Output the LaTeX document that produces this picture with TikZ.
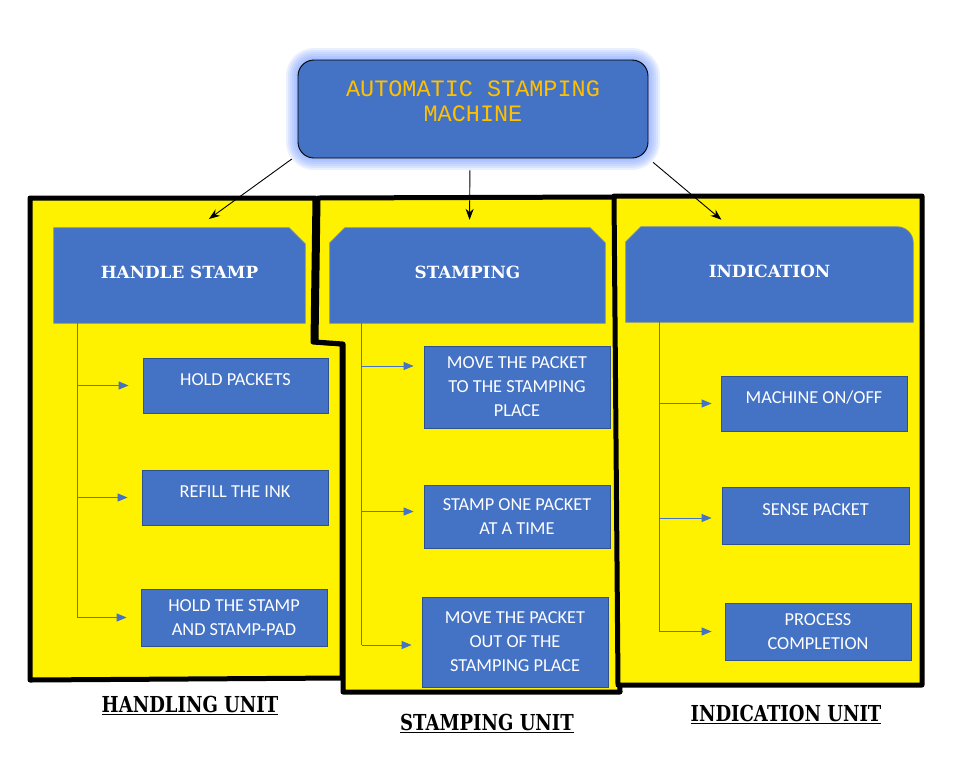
\documentclass[tikz,border=0pt]{standalone}
\usepackage{fontspec}
\setmainfont{Carlito}
\newfontfamily\titlefont{Liberation Mono}
\newfontfamily\headfont{DejaVu Serif}
\newfontfamily\unitfont{DejaVu Serif}[FakeStretch=0.82]
\usetikzlibrary{arrows.meta}
\definecolor{ylw}{RGB}{255,242,0}
\definecolor{boxblue}{RGB}{68,114,196}
\definecolor{boxedge}{RGB}{47,82,143}
\definecolor{glow}{RGB}{110,150,255}
\definecolor{titletext}{RGB}{255,192,0}
\pgfdeclarelayer{bottom}
\pgfdeclarelayer{background}
\pgfsetlayers{bottom,background,main}
\tikzset{
  region/.style={fill=ylw, draw=black, line width=5pt, line join=round},
  head/.style={inner sep=0pt, text=white, font=\headfont\bfseries\fontsize{16.8}{18}\selectfont},
  headshape/.style={fill=boxblue, draw=boxedge!70!white, line width=0.8pt},
  sub/.style={fill=boxblue, draw=boxedge, line width=0.8pt, text=white, inner sep=0pt,
    font=\fontsize{18.3}{24}\selectfont, align=center},
  oneline/.style={text height=12pt, text depth=12pt},
  headtext/.style={text height=12pt, text depth=6pt},
  trunk/.style={draw=boxblue, line width=1pt},
  branch/.style={draw=boxblue, line width=1pt, -{Triangle[length=10pt,width=8pt]}},
  toparrow/.style={draw=black, line width=0.9pt, -{Stealth[length=11pt,width=8pt]}},
  unitlabel/.style={inner sep=0pt, font=\unitfont\bfseries\fontsize{22}{24}\selectfont}
}
\begin{document}
\begin{tikzpicture}[x=1pt, y=-1pt]
\useasboundingbox (0,0) rectangle (957,769);
\begin{pgfonlayer}{bottom}
% yellow regions
\path[region] (30,198) -- (315,198) -- (313,342) -- (342,344) -- (342,678) -- (30,680) -- cycle;
\path[region] (318,198) -- (615,197) -- (620,692) -- (343,692) -- (343,344) -- (316,342) -- cycle;
\path[region] (614,196) -- (922,196) -- (922,685) -- (618,685) -- cycle;
% title glow
\foreach \g in {12,10,8,6,4,2} {
  \fill[glow, opacity=0.14, rounded corners={16pt+\g pt}] (298-\g,60-\g) rectangle (648+\g,158+\g);
}
\end{pgfonlayer}
\node[draw=black, line width=0.9pt, fill=boxblue, rounded corners=16pt,
  minimum width=350pt, minimum height=98pt, inner sep=0pt] (title) at (473,109) {};
\node[text=titletext, font=\titlefont\fontsize{23.5}{25.5}\selectfont, align=center, inner sep=0pt]
  (titletxt) at (473,101) {AUTOMATIC STAMPING\\MACHINE};
% header boxes
\node[head, headtext, minimum width=251pt, minimum height=95pt] (hs) at (179.5,275.5) {HANDLE STAMP};
\node[head, headtext, minimum width=275pt, minimum height=95pt] (stp) at (467.5,275.5) {STAMPING};
\node[head, headtext, minimum width=287pt, minimum height=95pt] (ind) at (769.5,274.5) {INDICATION};
\begin{pgfonlayer}{background}
\path[headshape] (hs.north west) -- ([xshift=-16pt]hs.north east) -- ([yshift=-16pt]hs.north east)
  -- (hs.south east) -- (hs.south west) -- cycle;
\path[headshape] ([yshift=-15pt]stp.north west) -- ([xshift=15pt]stp.north west)
  -- ([xshift=-15pt]stp.north east) -- ([yshift=-15pt]stp.north east)
  -- (stp.south east) -- (stp.south west) -- cycle;
\path[headshape] ([yshift=-15pt]ind.north west) -- ([xshift=15pt]ind.north west)
  -- ([xshift=-16pt]ind.north east) arc[start angle=90, end angle=0, radius=16pt]
  -- (ind.south east) -- (ind.south west) -- cycle;
\end{pgfonlayer}
% title arrows
\draw[toparrow, shorten <=1pt, shorten >=15pt] ([xshift=-5pt]title.south west) -- ([xshift=143pt]hs.north west);
\draw[toparrow, shorten <=12pt, shorten >=8pt] ([xshift=-3pt]title.south) -- ([xshift=2pt]stp.north);
\draw[toparrow, shorten <=6pt, shorten >=11pt] (title.south east) -- ([xshift=104pt]ind.north west);
% sub boxes: handling
\node[sub, oneline, minimum width=185pt, minimum height=55pt] (hp) at (235.5,385.5) {HOLD PACKETS};
\node[sub, oneline, minimum width=186pt, minimum height=55pt] (ri) at (235,497.5) {REFILL THE INK};
\node[sub, minimum width=186pt, minimum height=57pt] (hsp) at (234,617.5) {HOLD THE STAMP\\AND STAMP-PAD};
% stamping
\node[sub, minimum width=186pt, minimum height=82pt] (mp) at (517,387) {MOVE THE PACKET\\TO THE STAMPING\\PLACE};
\node[sub, minimum width=186pt, minimum height=63pt] (so) at (517,516.5) {STAMP ONE PACKET\\AT A TIME};
\node[sub, minimum width=186pt, minimum height=90pt] (mo) at (515,642) {MOVE THE PACKET\\OUT OF THE\\STAMPING PLACE};
% indication
\node[sub, oneline, minimum width=186pt, minimum height=55pt] (mc) at (814,403.5) {MACHINE ON/OFF};
\node[sub, oneline, minimum width=187pt, minimum height=57pt] (sp) at (815.5,515.5) {SENSE PACKET};
\node[sub, minimum width=186pt, minimum height=57pt] (pc) at (818,631.5) {PROCESS\\COMPLETION};
% trunks and branches
\coordinate (t1) at ([xshift=24pt]hs.south west);
\coordinate (t2) at ([xshift=32pt]stp.south west);
\coordinate (t3) at ([xshift=34pt]ind.south west);
\draw[trunk] (t1) -- (t1 |- hsp.west);
\draw[branch, shorten >=14pt] (t1 |- hp.west) -- (hp.west);
\draw[branch, shorten >=14pt] (t1 |- ri.west) -- (ri.west);
\draw[branch, shorten >=14pt] (t1 |- hsp.west) -- (hsp.west);
\coordinate (m1) at ([yshift=21pt]mp.west);
\coordinate (m3) at ([yshift=-3pt]mo.west);
\draw[trunk] (t2) -- (t2 |- m3);
\draw[branch, shorten >=10pt] (t2 |- m1) -- (m1);
\draw[branch, shorten >=10pt] ([yshift=5pt]t2 |- so.west) -- ([yshift=5pt]so.west);
\draw[branch, shorten >=10pt] (t2 |- m3) -- (m3);
\draw[trunk] (t3) -- (t3 |- pc.west);
\draw[branch, shorten >=9pt] (t3 |- mc.west) -- (mc.west);
\draw[branch, shorten >=10pt] ([yshift=-2.5pt]t3 |- sp.west) -- ([yshift=-2.5pt]sp.west);
\draw[branch, shorten >=13pt] (t3 |- pc.west) -- (pc.west);
% unit labels
\node[unitlabel] (u1) at (190,705) {\underline{HANDLING UNIT}};
\node[unitlabel] (u2) at (487,723) {\underline{STAMPING UNIT}};
\node[unitlabel] (u3) at (786,714) {\underline{INDICATION UNIT}};
\end{tikzpicture}
\end{document}
